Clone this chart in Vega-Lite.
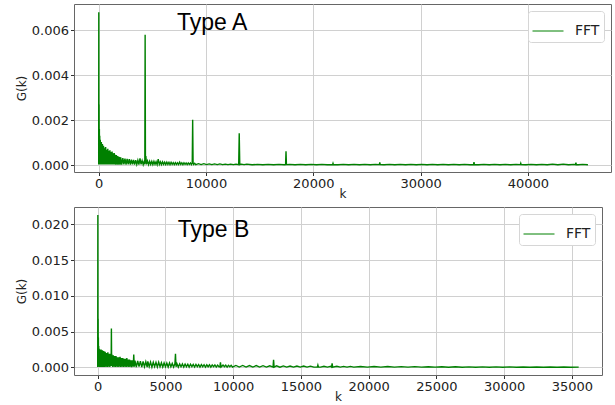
{
"$schema": "https://vega.github.io/schema/vega-lite/v6.json",
"padding": {"left": 14, "top": 3, "right": 1, "bottom": 0},
"spacing": 6,
"config": {
  "font": "DejaVu Sans",
  "view": {"stroke": "#666666", "strokeWidth": 1},
  "axis": {"grid": true, "gridColor": "#d0d0d0", "gridWidth": 1, "domain": false, "tickColor": "#333333", "tickSize": 3.5, "labelFontSize": 13, "labelColor": "#222222", "titleFontSize": 12, "titleFontWeight": "normal", "titleColor": "#222222", "labelPadding": 2, "titlePadding": 3},
  "axisX": {"titlePadding": -2, "labelPadding": 1.5},
  "legend": {"orient": "top-right", "offset": 7, "title": null, "symbolType": "stroke", "symbolSize": 961, "symbolStrokeWidth": 1, "labelFontSize": 14, "labelColor": "#222222", "padding": 4, "labelOffset": 11, "strokeColor": "#d6d6d6", "cornerRadius": 3, "fillColor": "#ffffff"}
},
"datasets": {
"A": [
{"k":0,"G":0.00002},{"k":10,"G":0.0068},{"k":20,"G":0.00008},{"k":35,"G":0.0027},{"k":50,"G":0.00006},{"k":65,"G":0.0016},{"k":80,"G":0.00004},{"k":100,"G":0.0013},{"k":125,"G":0.00003},{"k":150,"G":0.00112},{"k":175,"G":0.00002},{"k":200,"G":0.00098},{"k":225,"G":0.00004},{"k":250,"G":0.00102},{"k":275,"G":0.00002},{"k":300,"G":0.00088},{"k":325,"G":0.00003},{"k":350,"G":0.00094},{"k":375,"G":0.00002},{"k":400,"G":0.00082},{"k":425,"G":0.00004},{"k":450,"G":0.00086},{"k":475,"G":0.00002},{"k":500,"G":0.00078},
{"k":525,"G":0.00003},{"k":550,"G":0.00074},{"k":600,"G":0.00002},{"k":650,"G":0.0008},{"k":700,"G":0.00003},{"k":750,"G":0.00068},{"k":800,"G":0.00002},{"k":850,"G":0.00072},{"k":900,"G":0.00003},{"k":950,"G":0.00064},{"k":1000,"G":0.00002},{"k":1050,"G":0.00066},{"k":1100,"G":0.00003},{"k":1150,"G":0.00058},{"k":1200,"G":0.00002},{"k":1250,"G":0.0006},{"k":1300,"G":0.00003},{"k":1350,"G":0.00052},{"k":1400,"G":0.00002},{"k":1450,"G":0.00054},{"k":1500,"G":0.00003},{"k":1550,"G":0.00046},{"k":1600,"G":0.00002},{"k":1650,"G":0.00044},{"k":1700,"G":0.00003},{"k":1750,"G":0.0004},{"k":1800,"G":0.00002},{"k":1850,"G":0.00038},{"k":1900,"G":0.00003},{"k":1950,"G":0.00036},{"k":2000,"G":0.00002},
{"k":2050,"G":0.00034},{"k":2150,"G":0.00002},{"k":2250,"G":0.00031},{"k":2350,"G":0.00003},{"k":2450,"G":0.00029},{"k":2550,"G":0.00002},{"k":2650,"G":0.00027},{"k":2750,"G":0.00003},{"k":2850,"G":0.00026},{"k":2950,"G":0.00002},{"k":3050,"G":0.00024},{"k":3150,"G":0.00003},{"k":3250,"G":0.00023},{"k":3350,"G":0.00002},{"k":3450,"G":0.00022},{"k":3550,"G":0.00003},{"k":3650,"G":0.00021},{"k":3750,"G":0.00002},{"k":3850,"G":0.0003},{"k":3950,"G":0.00003},{"k":4050,"G":0.0002},{"k":4150,"G":0.00002},{"k":4250,"G":0.00019},{"k":4300,"G":0.00003},{"k":4330,"G":0.0058},{"k":4360,"G":0.0001},{"k":4400,"G":0.0004},{"k":4450,"G":0.00003},{"k":4550,"G":0.00018},{"k":4650,"G":0.00002},{"k":4750,"G":0.00017},{"k":4850,"G":0.00003},{"k":4950,"G":0.00016},{"k":5050,"G":0.00002},{"k":5150,"G":0.00016},{"k":5250,"G":0.00003},{"k":5350,"G":0.00015},{"k":5450,"G":0.00002},{"k":5550,"G":0.00026},{"k":5650,"G":0.00003},{"k":5750,"G":0.00014},{"k":5850,"G":0.00002},{"k":5950,"G":0.00014},{"k":6050,"G":0.00003},{"k":6150,"G":0.00013},{"k":6250,"G":0.00002},{"k":6350,"G":0.00013},{"k":6450,"G":0.00003},{"k":6550,"G":0.00012},{"k":6650,"G":0.00002},{"k":6750,"G":0.00012},{"k":6850,"G":0.00003},{"k":6950,"G":0.00011},{"k":7050,"G":0.00002},{"k":7150,"G":0.00011},{"k":7250,"G":0.00003},{"k":7350,"G":0.0001},{"k":7450,"G":0.00002},{"k":7550,"G":0.00013},{"k":7650,"G":0.00003},{"k":7750,"G":0.0001},{"k":7850,"G":0.00002},{"k":7950,"G":0.0001},{"k":8050,"G":0.00003},{"k":8150,"G":0.00009},{"k":8250,"G":0.00002},{"k":8350,"G":0.00009},{"k":8450,"G":0.00003},{"k":8550,"G":0.00009},{"k":8650,"G":0.00002},{"k":8720,"G":0.0001},{"k":8760,"G":0.00202},{"k":8800,"G":0.0001},{"k":8850,"G":0.00003},{"k":8950,"G":0.00008},{"k":9050,"G":0.00002},
{"k":9300,"G":0.00006},{"k":9550,"G":0.00002},{"k":9800,"G":0.00006},{"k":10050,"G":0.00002},{"k":10300,"G":0.00005},{"k":10550,"G":0.00002},{"k":10800,"G":0.00005},{"k":11050,"G":0.00002},{"k":11300,"G":0.00005},{"k":11550,"G":0.00002},{"k":11800,"G":0.00004},{"k":12050,"G":0.00002},{"k":12300,"G":0.00004},{"k":12550,"G":0.00002},{"k":12800,"G":0.00004},{"k":13050,"G":0.00002},{"k":13100,"G":0.00142},{"k":13150,"G":0.00002},{"k":13300,"G":0.00004},{"k":13550,"G":0.00002},
{"k":13800,"G":0.00004},{"k":14300,"G":0.00001},{"k":14800,"G":0.00003},{"k":15300,"G":0.00001},{"k":15800,"G":0.00003},{"k":16300,"G":0.00001},{"k":16800,"G":0.00003},{"k":17300,"G":0.00001},{"k":17420,"G":0.00002},{"k":17460,"G":0.00061},{"k":17500,"G":0.00002},{"k":17800,"G":0.00003},{"k":18300,"G":0.00001},{"k":18800,"G":0.00003},{"k":19300,"G":0.00001},{"k":19800,"G":0.00003},{"k":20300,"G":0.00001},{"k":20800,"G":0.00003},{"k":21300,"G":0.00001},{"k":21800,"G":0.00002},{"k":21840,"G":0.00008},{"k":21880,"G":0.00002},{"k":22300,"G":0.00001},{"k":22800,"G":0.00003},{"k":23300,"G":0.00001},{"k":23800,"G":0.00003},{"k":24300,"G":0.00001},{"k":24800,"G":0.00003},{"k":25300,"G":0.00001},{"k":25800,"G":0.00003},{"k":26160,"G":0.00002},{"k":26200,"G":0.00012},{"k":26240,"G":0.00002},{"k":26600,"G":0.00001},{"k":27100,"G":0.00003},{"k":27600,"G":0.00001},{"k":28100,"G":0.00003},{"k":28600,"G":0.00001},{"k":29100,"G":0.00003},{"k":29600,"G":0.00001},{"k":30100,"G":0.00003},{"k":30600,"G":0.00001},{"k":31100,"G":0.00003},{"k":31600,"G":0.00001},{"k":32100,"G":0.00003},{"k":32600,"G":0.00001},{"k":33100,"G":0.00003},{"k":33600,"G":0.00001},{"k":34100,"G":0.00003},{"k":34600,"G":0.00001},{"k":34940,"G":0.00002},{"k":34980,"G":0.00013},{"k":35020,"G":0.00002},{"k":35400,"G":0.00001},{"k":35900,"G":0.00003},{"k":36400,"G":0.00001},{"k":36900,"G":0.00003},{"k":37400,"G":0.00001},{"k":37900,"G":0.00003},{"k":38400,"G":0.00001},{"k":38900,"G":0.00003},{"k":39300,"G":0.00002},{"k":39340,"G":0.00008},{"k":39380,"G":0.00002},{"k":39800,"G":0.00001},{"k":40300,"G":0.00003},{"k":40800,"G":0.00001},{"k":41300,"G":0.00003},{"k":41800,"G":0.00001},{"k":42300,"G":0.00004},{"k":42800,"G":0.00001},{"k":43300,"G":0.00004},{"k":43800,"G":0.00001},{"k":44300,"G":0.00003},{"k":44440,"G":0.00002},{"k":44480,"G":0.00011},{"k":44520,"G":0.00002},{"k":44700,"G":0.00001},{"k":45100,"G":0.00003},{"k":45600,"G":0.00001}
],
"B": [
{"k":0,"G":0.00005},{"k":10,"G":0.0213},{"k":20,"G":0.0002},{"k":30,"G":0.0068},{"k":40,"G":0.0003},{"k":50,"G":0.0042},{"k":60,"G":0.0002},{"k":75,"G":0.003},{"k":90,"G":0.0001},{"k":110,"G":0.0026},{"k":130,"G":0.00005},{"k":150,"G":0.0025},{"k":175,"G":0.0001},{"k":200,"G":0.0024},{"k":225,"G":0.00005},{"k":250,"G":0.0025},{"k":275,"G":0.0001},{"k":300,"G":0.0023},{"k":325,"G":0.00005},{"k":350,"G":0.0024},{"k":375,"G":0.0001},{"k":400,"G":0.0022},{"k":425,"G":0.00005},{"k":450,"G":0.0023},{"k":475,"G":0.0001},{"k":500,"G":0.0021},{"k":525,"G":0.00005},{"k":550,"G":0.0022},{"k":600,"G":0.0001},{"k":650,"G":0.002},{"k":700,"G":0.00005},{"k":750,"G":0.0021},{"k":800,"G":0.0001},{"k":850,"G":0.0019},{"k":900,"G":0.00005},{"k":950,"G":0.0019},{"k":990,"G":0.0002},{"k":1010,"G":0.00545},{"k":1030,"G":0.0002},
{"k":1050,"G":0.0018},{"k":1100,"G":0.00005},{"k":1150,"G":0.0017},{"k":1200,"G":0.0001},{"k":1250,"G":0.0016},{"k":1300,"G":0.00005},{"k":1350,"G":0.0016},{"k":1400,"G":0.0001},{"k":1450,"G":0.0014},{"k":1500,"G":0.00005},{"k":1550,"G":0.0014},{"k":1600,"G":0.0001},{"k":1650,"G":0.0015},{"k":1700,"G":0.00005},{"k":1750,"G":0.0013},{"k":1800,"G":0.0001},{"k":1850,"G":0.0013},{"k":1900,"G":0.00005},{"k":1950,"G":0.0012},{"k":2000,"G":0.0001},
{"k":2050,"G":0.0012},{"k":2100,"G":0.00005},{"k":2150,"G":0.0013},{"k":2200,"G":0.0001},{"k":2250,"G":0.0011},{"k":2300,"G":0.00005},{"k":2350,"G":0.0011},{"k":2400,"G":0.0001},{"k":2450,"G":0.001},{"k":2500,"G":0.00005},{"k":2550,"G":0.001},{"k":2620,"G":0.0001},{"k":2660,"G":0.0018},{"k":2700,"G":0.0001},{"k":2750,"G":0.00095},{"k":2850,"G":0.00005},{"k":2950,"G":0.0009},{"k":3050,"G":0.0001},{"k":3150,"G":0.00088},{"k":3250,"G":0.00005},{"k":3350,"G":0.00085},{"k":3450,"G":0.0001},{"k":3550,"G":0.0008},{"k":3650,"G":0.00005},{"k":3700,"G":0.00085},{"k":3800,"G":0.0001},{"k":3900,"G":0.00075},{"k":4000,"G":0.00005},{"k":4100,"G":0.00072},{"k":4200,"G":0.0001},{"k":4300,"G":0.0007},{"k":4400,"G":0.00005},{"k":4500,"G":0.00072},{"k":4600,"G":0.0001},{"k":4700,"G":0.00065},{"k":4800,"G":0.00005},{"k":4900,"G":0.00062},{"k":5000,"G":0.0001},{"k":5100,"G":0.0006},{"k":5200,"G":0.00005},{"k":5300,"G":0.00064},{"k":5400,"G":0.0001},{"k":5500,"G":0.00056},{"k":5600,"G":0.00005},{"k":5700,"G":0.00055},{"k":5740,"G":0.0019},{"k":5780,"G":0.0001},{"k":5850,"G":0.00052},{"k":5950,"G":0.00005},{"k":6050,"G":0.0005},{"k":6150,"G":0.0001},{"k":6250,"G":0.00048},{"k":6350,"G":0.00005},{"k":6450,"G":0.00047},{"k":6550,"G":0.0001},{"k":6650,"G":0.00045},{"k":6750,"G":0.00005},{"k":6850,"G":0.00044},{"k":6950,"G":0.0001},{"k":7050,"G":0.00042},{"k":7150,"G":0.00005},{"k":7250,"G":0.00041},{"k":7350,"G":0.0001},{"k":7450,"G":0.0004},{"k":7550,"G":0.00005},{"k":7650,"G":0.00039},{"k":7750,"G":0.0001},{"k":7850,"G":0.00038},{"k":7950,"G":0.00005},{"k":8050,"G":0.00037},{"k":8150,"G":0.0001},{"k":8250,"G":0.00036},{"k":8350,"G":0.00005},{"k":8450,"G":0.00035},{"k":8550,"G":0.0001},{"k":8650,"G":0.00034},{"k":8750,"G":0.00005},{"k":8850,"G":0.00033},{"k":8950,"G":0.0001},{"k":9020,"G":0.0001},{"k":9060,"G":0.0007},{"k":9100,"G":0.00005},{"k":9250,"G":0.00032},{"k":9350,"G":0.0001},{"k":9450,"G":0.00031},{"k":9550,"G":0.00005},{"k":9650,"G":0.0003},{"k":9750,"G":0.0001},{"k":9850,"G":0.0003},{"k":9950,"G":0.00005},
{"k":10200,"G":0.00028},{"k":10450,"G":0.00005},{"k":10700,"G":0.00027},{"k":10950,"G":0.00005},{"k":11200,"G":0.00026},{"k":11450,"G":0.00005},{"k":11700,"G":0.00025},{"k":11950,"G":0.00005},{"k":12200,"G":0.00024},{"k":12450,"G":0.00005},{"k":12700,"G":0.00023},{"k":12940,"G":0.00005},{"k":12980,"G":0.00108},{"k":13020,"G":0.00005},{"k":13200,"G":0.00022},{"k":13450,"G":0.00004},{"k":13700,"G":0.00021},{"k":13950,"G":0.00004},{"k":14200,"G":0.0002},{"k":14450,"G":0.00004},{"k":14700,"G":0.0002},{"k":14950,"G":0.00004},{"k":15200,"G":0.00019},{"k":15450,"G":0.00004},{"k":15700,"G":0.00018},{"k":15950,"G":0.00004},{"k":16210,"G":0.00005},{"k":16250,"G":0.00032},{"k":16290,"G":0.00005},{"k":16450,"G":0.00004},{"k":16700,"G":0.00017},{"k":16950,"G":0.00004},{"k":17200,"G":0.00016},{"k":17260,"G":0.00005},{"k":17300,"G":0.00056},{"k":17340,"G":0.00004},{"k":17650,"G":0.00016},{"k":17900,"G":0.00004},{"k":18150,"G":0.00015},{"k":18400,"G":0.00004},{"k":18650,"G":0.00015},{"k":18900,"G":0.00004},
{"k":19400,"G":0.00013},{"k":19900,"G":0.00004},{"k":20400,"G":0.00012},{"k":20900,"G":0.00004},{"k":21400,"G":0.00012},{"k":21900,"G":0.00004},{"k":22400,"G":0.00011},{"k":22900,"G":0.00004},{"k":23400,"G":0.00011},{"k":23900,"G":0.00004},{"k":24400,"G":0.0001},{"k":24900,"G":0.00004},{"k":25400,"G":0.00009},{"k":25900,"G":0.00003},{"k":26400,"G":0.00009},{"k":26900,"G":0.00003},{"k":27400,"G":0.00008},{"k":27900,"G":0.00003},{"k":28400,"G":0.00008},{"k":28900,"G":0.00003},{"k":29400,"G":0.00007},{"k":29900,"G":0.00003},{"k":30400,"G":0.00007},{"k":30900,"G":0.00003},{"k":31400,"G":0.00006},{"k":31900,"G":0.00003},{"k":32400,"G":0.00006},{"k":32900,"G":0.00003},{"k":33400,"G":0.00005},{"k":33900,"G":0.00003},{"k":34400,"G":0.00005},{"k":34900,"G":0.00003},{"k":35500,"G":0.00004}
]
},
"vconcat": [
{
  "width": 537, "height": 168,
  "layer": [
    {"data": {"name": "A"}, "mark": {"type": "line", "strokeWidth": 1.4},
     "encoding": {
       "x": {"field": "k", "type": "quantitative", "scale": {"domain": [-2300, 47750], "nice": false, "zero": false}, "axis": {"values": [0, 10000, 20000, 30000, 40000], "format": "d", "title": "k"}},
       "y": {"field": "G", "type": "quantitative", "scale": {"domain": [-0.00031, 0.00717], "nice": false, "zero": false}, "axis": {"values": [0, 0.002, 0.004, 0.006], "format": ".3f", "title": "G(k)"}},
       "color": {"datum": "FFT", "type": "nominal", "scale": {"range": ["#008000"]}}
     }},
    {"data": {"values": [{"k": 7300, "G": 0.006, "label": "Type A"}]},
     "mark": {"type": "text", "align": "left", "baseline": "alphabetic", "font": "Liberation Sans", "fontSize": 23, "color": "#000000"},
     "encoding": {"x": {"field": "k", "type": "quantitative"}, "y": {"field": "G", "type": "quantitative"}, "text": {"field": "label"}}}
  ]
},
{
  "width": 528, "height": 168,
  "layer": [
    {"data": {"name": "B"}, "mark": {"type": "line", "strokeWidth": 1.4},
     "encoding": {
       "x": {"field": "k", "type": "quantitative", "scale": {"domain": [-1750, 37220], "nice": false, "zero": false}, "axis": {"values": [0, 5000, 10000, 15000, 20000, 25000, 30000, 35000], "format": "d", "title": "k"}},
       "y": {"field": "G", "type": "quantitative", "scale": {"domain": [-0.00106, 0.02243], "nice": false, "zero": false}, "axis": {"values": [0, 0.005, 0.01, 0.015, 0.02], "format": ".3f", "title": "G(k)"}},
       "color": {"datum": "FFT", "type": "nominal", "scale": {"range": ["#008000"]}}
     }},
    {"data": {"values": [{"k": 5910, "G": 0.01824, "label": "Type B"}]},
     "mark": {"type": "text", "align": "left", "baseline": "alphabetic", "font": "Liberation Sans", "fontSize": 23, "color": "#000000"},
     "encoding": {"x": {"field": "k", "type": "quantitative"}, "y": {"field": "G", "type": "quantitative"}, "text": {"field": "label"}}}
  ]
}
],
"resolve": {"scale": {"x": "independent", "y": "independent", "color": "independent"}, "legend": {"color": "independent"}}
}
